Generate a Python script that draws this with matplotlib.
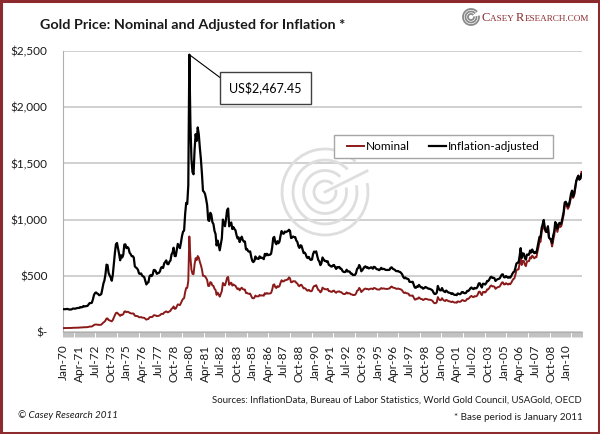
import numpy as np
import matplotlib
matplotlib.use("Agg")
import matplotlib.pyplot as plt
from matplotlib.patches import Rectangle, Arc

plt.rcParams['font.family'] = ['Lato', 'DejaVu Sans']

# monthly gold price, Jan-1970 .. Mar-2011 (US$ / oz)
nominal = [
    34.9, 35.0, 35.1, 35.6, 35.9, 35.4, 35.3, 35.4, 36.2, 37.5, 37.4, 37.4,  # 1970
    37.9, 38.7, 38.9, 39.0, 40.5, 40.1, 40.9, 42.7, 42.0, 42.5, 42.9, 43.5,  # 1971
    46.0, 48.3, 48.3, 49.0, 54.6, 62.1, 65.7, 67.0, 65.5, 64.9, 62.9, 63.9,  # 1972
    65.1, 74.2, 84.4, 90.5, 102.0, 120.1, 120.2, 106.8, 103.0, 100.1, 94.8, 106.7,  # 1973
    129.2, 150.2, 168.4, 172.2, 163.3, 154.1, 143.0, 154.6, 151.8, 158.8, 181.7, 183.9,  # 1974
    176.3, 179.6, 178.2, 169.8, 167.4, 164.3, 165.1, 163.2, 144.6, 142.7, 142.2, 139.3,  # 1975
    131.6, 131.0, 132.6, 128.2, 127.0, 125.9, 117.7, 109.9, 114.4, 116.0, 130.2, 133.8,  # 1976
    132.3, 136.4, 148.2, 149.2, 146.6, 141.0, 143.4, 144.9, 149.5, 159.2, 161.9, 160.5,  # 1977
    173.3, 178.2, 183.7, 175.3, 176.3, 183.7, 188.7, 206.1, 212.7, 227.3, 206.0, 207.8,  # 1978
    227.3, 245.7, 242.1, 239.2, 257.6, 279.1, 294.7, 300.8, 355.2, 392.0, 392.6, 455.1,  # 1979
    850.0, 665.0, 554.0, 517.0, 514.0, 601.0, 657.0, 640.0, 676.0, 661.0, 624.0, 595.0,  # 1980
    557.4, 500.3, 498.8, 494.8, 480.3, 461.8, 409.3, 410.1, 444.0, 437.8, 413.4, 410.1,  # 1981
    384.1, 374.2, 330.3, 350.5, 333.7, 314.8, 339.1, 364.4, 436.5, 422.5, 414.6, 445.3,  # 1982
    481.9, 490.4, 419.6, 432.5, 438.8, 412.6, 422.7, 416.3, 411.5, 393.7, 381.5, 388.0,  # 1983
    370.4, 385.6, 394.3, 381.9, 377.6, 378.0, 346.7, 348.5, 341.1, 340.0, 341.2, 320.2,  # 1984
    302.8, 299.1, 304.0, 324.6, 316.9, 316.8, 317.3, 330.1, 323.1, 325.9, 325.3, 322.5,  # 1985
    345.6, 339.0, 346.4, 340.4, 342.5, 342.7, 348.6, 376.0, 418.9, 423.6, 398.5, 391.3,  # 1986
    408.3, 401.0, 408.7, 438.4, 460.5, 449.6, 450.3, 461.0, 460.2, 465.5, 467.0, 486.3,  # 1987
    477.3, 442.4, 444.2, 452.2, 451.1, 451.1, 437.8, 431.4, 413.4, 406.7, 419.5, 419.2,  # 1988
    404.0, 387.8, 390.2, 384.2, 371.2, 367.6, 375.4, 365.4, 362.0, 366.7, 394.3, 409.4,  # 1989
    410.1, 416.8, 393.1, 374.3, 369.0, 352.3, 362.5, 394.8, 388.0, 380.7, 381.1, 378.2,  # 1990
    383.6, 363.8, 363.3, 358.4, 356.8, 366.7, 367.7, 356.1, 348.7, 358.7, 359.6, 361.7,  # 1991
    354.5, 354.0, 344.3, 338.6, 337.2, 340.8, 352.7, 342.9, 345.4, 344.4, 335.0, 334.8,  # 1992
    329.0, 329.3, 330.0, 342.2, 367.2, 371.9, 392.0, 379.8, 355.3, 364.2, 373.8, 383.3,  # 1993
    387.0, 381.6, 384.1, 377.3, 381.4, 385.6, 385.5, 380.4, 391.6, 389.8, 384.4, 379.3,  # 1994
    378.6, 376.5, 382.1, 391.0, 385.3, 387.6, 386.2, 383.7, 383.1, 383.0, 386.1, 387.4,  # 1995
    400.0, 404.8, 396.3, 392.8, 391.9, 385.3, 383.5, 387.5, 383.1, 381.1, 377.9, 369.3,  # 1996
    355.0, 346.6, 351.8, 344.5, 343.8, 340.8, 324.1, 324.0, 322.8, 324.9, 306.0, 288.7,  # 1997
    289.2, 297.5, 295.9, 308.4, 299.1, 292.3, 292.9, 284.1, 289.0, 296.1, 293.8, 291.7,  # 1998
    287.1, 287.2, 286.0, 282.5, 276.4, 261.3, 256.1, 256.7, 265.0, 310.8, 293.2, 283.1,  # 1999
    284.6, 300.9, 286.4, 279.7, 275.3, 285.7, 281.6, 274.5, 273.7, 270.0, 266.0, 271.5,  # 2000
    265.5, 261.9, 263.0, 260.5, 272.4, 270.2, 267.5, 272.4, 283.4, 283.1, 276.2, 275.9,  # 2001
    281.7, 295.5, 294.0, 302.7, 314.5, 321.2, 313.3, 310.3, 319.2, 316.6, 319.2, 332.3,  # 2002
    356.9, 359.0, 340.6, 328.2, 355.7, 356.4, 351.0, 359.8, 378.9, 378.9, 389.9, 407.6,  # 2003
    413.8, 404.9, 406.7, 403.0, 383.8, 392.4, 398.1, 400.5, 405.3, 420.5, 439.4, 442.1,  # 2004
    424.0, 423.4, 434.2, 428.9, 421.9, 430.7, 424.5, 437.9, 456.1, 470.8, 476.7, 510.1,  # 2005
    549.9, 555.0, 557.1, 610.6, 675.4, 596.2, 633.7, 632.6, 598.2, 585.8, 627.8, 629.8,  # 2006
    631.2, 664.8, 654.9, 679.4, 666.9, 655.5, 665.3, 665.4, 712.7, 754.6, 806.3, 803.2,  # 2007
    889.6, 922.3, 968.4, 909.7, 888.7, 889.5, 939.8, 839.0, 829.9, 806.6, 760.9, 816.1,  # 2008
    858.7, 943.2, 924.3, 890.2, 928.6, 945.7, 934.2, 949.4, 996.6, 1043.2, 1127.0, 1134.7,  # 2009
    1118.0, 1095.4, 1113.3, 1148.7, 1205.4, 1232.9, 1193.0, 1215.8, 1271.0, 1342.0, 1369.9, 1390.6,  # 2010
    1356.4, 1372.7, 1424.0,  # 2011
]

# same series in January-2011 dollars
adjusted = [
    203, 203, 203, 205, 205, 201, 200, 200, 203, 209, 208, 207,  # 1970
    210, 213, 214, 214, 222, 219, 222, 231, 227, 229, 231, 233,  # 1971
    247, 258, 257, 260, 289, 328, 346, 352, 343, 338, 327, 331,  # 1972
    337, 381, 430, 458, 513, 599, 595, 525, 503, 485, 456, 509,  # 1973
    611, 704, 781, 792, 743, 695, 638, 683, 663, 688, 778, 780,  # 1974
    746, 756, 745, 706, 693, 675, 675, 663, 584, 574, 567, 553,  # 1975
    521, 516, 521, 501, 495, 488, 454, 423, 438, 442, 495, 506,  # 1976
    497, 510, 551, 552, 541, 517, 523, 526, 540, 572, 578, 570,  # 1977
    610, 624, 637, 605, 603, 625, 636, 690, 706, 750, 676, 675,  # 1978
    732, 784, 765, 746, 796, 854, 893, 902, 1051, 1149, 1139, 1306,  # 1979
    2467.45, 1862, 1540, 1422, 1403, 1623, 1760, 1700, 1820, 1760, 1640, 1540,  # 1980
    1410, 1256, 1247, 1227, 1182, 1127, 995, 988, 1061, 1042, 976, 960,  # 1981
    899, 872, 770, 813, 771, 727, 780, 834, 1000, 963, 941, 1006,  # 1982
    1084, 1099, 940, 964, 974, 916, 934, 916, 905, 862, 832, 842,  # 1983
    800, 829, 848, 817, 804, 805, 735, 739, 720, 714, 717, 669,  # 1984
    633, 622, 632, 672, 653, 653, 650, 673, 659, 662, 657, 648,  # 1985
    695, 681, 696, 683, 687, 687, 698, 752, 837, 846, 796, 781,  # 1986
    808, 790, 805, 859, 898, 877, 874, 894, 888, 894, 897, 910,  # 1987
    900, 836, 840, 850, 844, 844, 814, 802, 765, 748, 772, 767,  # 1988
    735, 702, 706, 692, 664, 658, 668, 647, 641, 645, 694, 716,  # 1989
    709, 717, 676, 640, 627, 595, 613, 663, 648, 632, 633, 624,  # 1990
    629, 597, 592, 584, 582, 594, 596, 577, 561, 578, 575, 579,  # 1991
    564, 563, 544, 535, 533, 535, 554, 538, 539, 537, 519, 519,  # 1992
    507, 507, 508, 524, 562, 569, 596, 577, 540, 550, 564, 579,  # 1993
    584, 572, 576, 566, 568, 575, 574, 563, 580, 577, 565, 558,  # 1994
    557, 550, 558, 571, 559, 562, 560, 553, 552, 552, 552, 554,  # 1995
    572, 575, 563, 558, 553, 543, 541, 543, 536, 534, 525, 513,  # 1996
    490, 478, 485, 475, 474, 470, 446, 446, 444, 447, 420, 396,  # 1997
    393, 405, 402, 419, 406, 397, 397, 385, 391, 400, 397, 391,  # 1998
    385, 385, 380, 376, 368, 348, 338, 339, 350, 410, 384, 371,  # 1999
    370, 391, 369, 361, 355, 369, 360, 351, 350, 346, 338, 345,  # 2000
    335, 330, 331, 328, 343, 340, 336, 342, 355, 355, 346, 345,  # 2001
    349, 366, 364, 374, 388, 396, 386, 382, 392, 388, 390, 405,  # 2002
    432, 434, 411, 396, 429, 429, 422, 432, 454, 453, 465, 485,  # 2003
    492, 481, 483, 478, 454, 464, 470, 472, 477, 494, 511, 513,  # 2004
    488, 486, 498, 491, 482, 491, 483, 497, 516, 532, 538, 571,  # 2005
    610, 616, 617, 676, 746, 658, 699, 697, 658, 644, 690, 686,  # 2006
    688, 725, 707, 734, 714, 701, 712, 705, 755, 800, 847, 843,  # 2007
    925, 959, 997, 928, 898, 890, 940, 839, 830, 823, 791, 857,  # 2008
    893, 978, 957, 920, 958, 971, 960, 974, 1021, 1068, 1152, 1159,  # 2009
    1140, 1117, 1135, 1172, 1229, 1258, 1205, 1228, 1284, 1342, 1370, 1391,  # 2010
    1356, 1365, 1403,  # 2011
]

tick_labels = ['Jan-70', 'Apr-71', 'Jul-72', 'Oct-73', 'Jan-75', 'Apr-76', 'Jul-77',
               'Oct-78', 'Jan-80', 'Apr-81', 'Jul-82', 'Oct-83', 'Jan-85', 'Apr-86',
               'Jul-87', 'Oct-88', 'Jan-90', 'Apr-91', 'Jul-92', 'Oct-93', 'Jan-95',
               'Apr-96', 'Jul-97', 'Oct-98', 'Jan-00', 'Apr-01', 'Jul-02', 'Oct-03',
               'Jan-05', 'Apr-06', 'Jul-07', 'Oct-08', 'Jan-10']
label_step = 15
y_ticks = [0, 500, 1000, 1500, 2000, 2500]
y_labels = ['$-', '$500', '$1,000', '$1,500', '$2,000', '$2,500']

peak_idx = int(np.argmax(adjusted))
peak_val = adjusted[peak_idx]

RED = '#8b1a1a'
FRAME = '#8c2a2e'
W, H = 600, 434

fig = plt.figure(figsize=(6, 4.34), dpi=100)
fig.patch.set_facecolor('white')

ax = fig.add_axes([63 / W, 1 - 332 / H, 519 / W, 281 / H])
x = np.arange(len(nominal))
ax.plot(x, nominal, color=RED, lw=1.4, label='Nominal', zorder=3)
ax.plot(x, adjusted, color='black', lw=1.6, label='Inflation-adjusted', zorder=4)

ax.set_xlim(-0.5, len(nominal) - 0.5)
ax.set_ylim(0, 2500)
ax.set_yticks(y_ticks)
ax.set_yticklabels(y_labels)
ax.set_xticks(np.arange(len(tick_labels)) * label_step)
ax.set_xticklabels(tick_labels, rotation=90)
ax.set_xticks(np.arange(-0.5, len(nominal), 1), minor=True)

ax.tick_params(axis='y', length=0, pad=11, labelsize=8.5, labelcolor='#1a1a1a')
ax.tick_params(axis='x', which='major', length=0, pad=9, labelsize=8.5, labelcolor='#1a1a1a')
ax.tick_params(axis='x', which='minor', length=3.5, width=0.5, color='#a8a8a8')

ax.grid(axis='y', color='#c4c4c4', lw=1.1)
ax.set_axisbelow(True)
for s in ['top', 'right']:
    ax.spines[s].set_visible(False)
ax.spines['left'].set_color('#b0b0b0')
ax.spines['bottom'].set_color('#b0b0b0')

# legend with its own frame
ax.add_patch(Rectangle((0.522, 0.620), 0.422, 0.082, transform=ax.transAxes,
                       facecolor='white', edgecolor='#a6a6a6', lw=1.0, zorder=5))
ax.legend(loc='center', bbox_to_anchor=(0.733, 0.661), ncol=2, frameon=False,
          fontsize=8.5, handlelength=1.45, handletextpad=0.15, columnspacing=1.6)

# watermark
din = fig.dpi_scale_trans
cx, cy = 325 / 100, (H - 192) / 100
for r in [43, 32, 21.5, 11]:
    ax.add_patch(Arc((cx, cy), 2 * r / 100, 2 * r / 100, theta1=45, theta2=372,
                     transform=din, color='#dedede', lw=2.0, zorder=1, clip_on=False))
ax.plot([3.25, 3.67], [(H - 192) / 100, (H - 171) / 100], transform=din,
        color='#dedede', lw=2.0, zorder=1, clip_on=False)

# peak callout
ax.annotate('', xy=(peak_idx, peak_val), xytext=(222, H - 79), textcoords='figure pixels',
            arrowprops=dict(arrowstyle='-', color='black', lw=0.8, shrinkA=0, shrinkB=0))
fig.text(265.5 / W, 1 - 88 / H, 'US$2,467.45', ha='center', va='center', fontsize=9,
         bbox=dict(boxstyle='square,pad=0.75', facecolor='white', edgecolor='#404040', lw=1.0))

# title and texts
fig.text(40 / W, 1 - 25 / H, 'Gold Price: Nominal and Adjusted for Inflation *',
         fontsize=10.4, fontweight='bold', va='center', ha='left', color='#1a1a1a')
fig.text(582 / W, 1 - 400 / H,
         'Sources: InflationData, Bureau of Labor Statistics, World Gold Council, USAGold, OECD',
         fontsize=6.9, ha='right', va='center', color='#1a1a1a')
fig.text(583 / W, 1 - 418 / H, '* Base period is January 2011', fontsize=7.1,
         ha='right', va='center', color='#1a1a1a')
fig.text(18 / W, 1 - 415 / H, '\u00a9 Casey Research 2011', fontsize=7.1, style='italic',
         ha='left', va='center', color='#1a1a1a')

# logo top right
lx, ly = 471 / 100, (H - 17) / 100
for r in [8, 5.5, 3]:
    fig.patches.append(Arc((lx, ly), 2 * r / 100, 2 * r / 100, theta1=40, theta2=370,
                           transform=din, color='#8a8a8a', lw=1.3))
renderer = fig.canvas.get_renderer()
logo_parts = [('C', 9.0), ('ASEY ', 6.6), ('R', 9.0), ('ESEARCH.COM', 6.6)]
px = 482
for part, size in logo_parts:
    t = fig.text(px / W, 1 - 21 / H, part, fontsize=size, color=FRAME,
                 family='Liberation Serif', ha='left', va='baseline')
    px += t.get_window_extent(renderer).width

# outer frame
fig.patches.append(Rectangle((0.002, 0.003), 0.996, 0.994, transform=fig.transFigure,
                             fill=False, edgecolor=FRAME, lw=2.2))

fig.savefig('out.png', dpi=100)
